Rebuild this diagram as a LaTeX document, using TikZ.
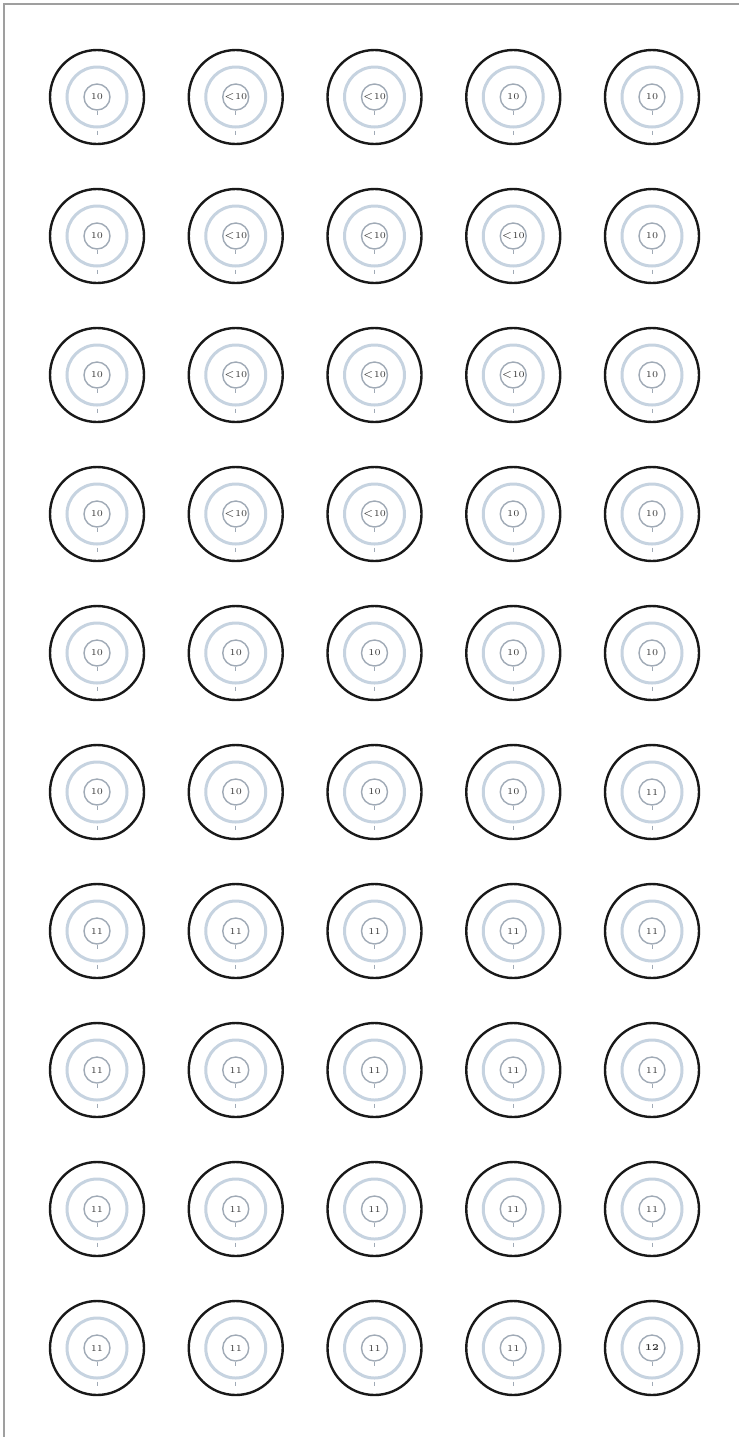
\documentclass[tikz,border=0pt]{standalone}
\definecolor{ringblue}{RGB}{198,211,224}
\definecolor{bullgray}{RGB}{160,170,182}
\tikzset{
target/.style={circle, draw=black!90, line width=1.2pt, minimum size=47pt, inner sep=0pt},
ring/.style={circle, draw=ringblue, line width=1.5pt, minimum size=30pt, inner sep=0pt},
bull/.style={circle, draw=bullgray, line width=0.7pt, minimum size=13pt, inner sep=0pt,
  font=\fontsize{4.5}{4.5}\selectfont, text=black!80},
tick/.style={draw=bullgray, line width=0.5pt},
frame/.style={draw=gray!75, line width=1pt},
}

\begin{document}
\begin{tikzpicture}[x=0.5pt, y=-0.5pt]
\useasboundingbox (0,0) rectangle (739,1437);
\draw[frame] (739,4) -- (4,4) -- (4,1437);

\foreach \lbls [count=\r] in {
  {10,$<$10,$<$10,10,10},
  {10,$<$10,$<$10,$<$10,10},
  {10,$<$10,$<$10,$<$10,10},
  {10,$<$10,$<$10,10,10},
  {10,10,10,10,10},
  {10,10,10,10,11},
  {11,11,11,11,11},
  {11,11,11,11,11},
  {11,11,11,11,11},
  {11,11,11,11,\textbf{12}}} {
  \foreach \t [count=\c] in \lbls {
    \node[target] (t-\r-\c) at ({97+138.75*(\c-1)}, {97+139*(\r-1)}) {};
    \node[ring] (m-\r-\c) at (t-\r-\c) {};
    \node[bull] (b-\r-\c) at (t-\r-\c) {\t};
    \draw[tick] (b-\r-\c.south) -- ++(0,4);
    \draw[tick] ([yshift=-1pt]m-\r-\c.south) -- ++(0,4);
  }
}
\end{tikzpicture}
\end{document}
